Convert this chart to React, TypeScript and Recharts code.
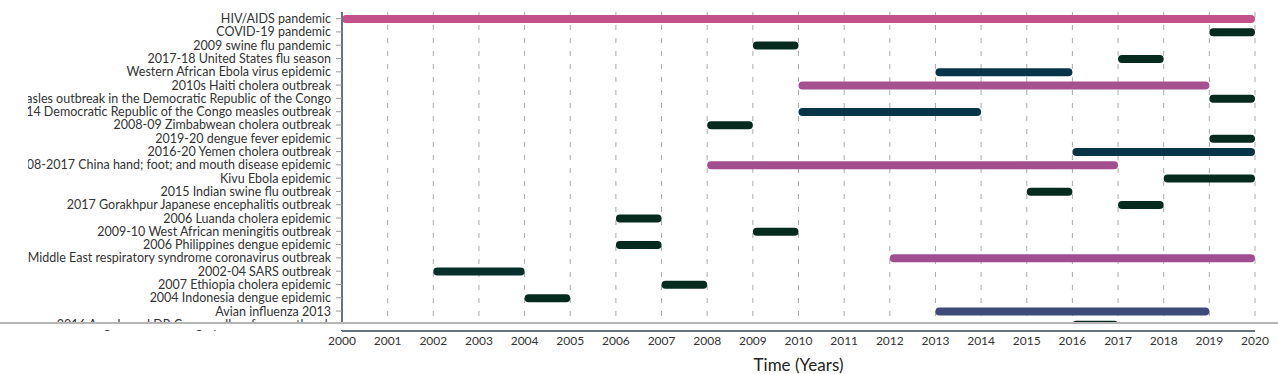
import { BarChart, Bar, XAxis, YAxis, CartesianGrid, Cell } from 'recharts';

// one row per outbreak, listed top to bottom
const outbreaks = [
  'HIV/AIDS pandemic',
  'COVID-19 pandemic',
  '2009 swine flu pandemic',
  '2017-18 United States flu season',
  'Western African Ebola virus epidemic',
  '2010s Haiti cholera outbreak',
  '2019 measles outbreak in the Democratic Republic of the Congo',
  '2011-2014 Democratic Republic of the Congo measles outbreak',
  '2008-09 Zimbabwean cholera outbreak',
  '2019-20 dengue fever epidemic',
  '2016-20 Yemen cholera outbreak',
  '2008-2017 China hand; foot; and mouth disease epidemic',
  'Kivu Ebola epidemic',
  '2015 Indian swine flu outbreak',
  '2017 Gorakhpur Japanese encephalitis outbreak',
  '2006 Luanda cholera epidemic',
  '2009-10 West African meningitis outbreak',
  '2006 Philippines dengue epidemic',
  'Middle East respiratory syndrome coronavirus outbreak',
  '2002-04 SARS outbreak',
  '2007 Ethiopia cholera epidemic',
  '2004 Indonesia dengue epidemic',
  'Avian influenza 2013',
  '2016 Angola and DR Congo yellow fever outbreak',
];

const startYears = [2000, 2019, 2009, 2017, 2013, 2010, 2019, 2010, 2008, 2019, 2016, 2008, 2018, 2015, 2017, 2006, 2009, 2006, 2012, 2002, 2007, 2004, 2013, 2016];
const endYears = [2020, 2020, 2010, 2018, 2016, 2019, 2020, 2014, 2009, 2020, 2020, 2017, 2020, 2016, 2018, 2007, 2010, 2007, 2020, 2004, 2008, 2005, 2019, 2017];

const barColors = [
  '#c4528a', '#052a1e', '#052a1e', '#052a1e', '#08344a', '#a5508f',
  '#052a1e', '#08344a', '#052a1e', '#052a1e', '#08344a', '#a24f90',
  '#052a1e', '#052a1e', '#052a1e', '#052a1e', '#052a1e', '#052a1e',
  '#a04e92', '#07302a', '#052a1e', '#052a1e', '#3d4a7a', '#052a1e',
];

const yearTicks = [2000, 2001, 2002, 2003, 2004, 2005, 2006, 2007, 2008, 2009, 2010, 2011, 2012, 2013, 2014, 2015, 2016, 2017, 2018, 2019, 2020];

const data = outbreaks.map((name, i) => ({ name, span: [startYears[i], endYears[i]] }));

const font = 'Lato, "Open Sans", sans-serif';

// plain <text> so long names don't get wrapped by recharts
const NameTick = ({ x, y, payload }: any) => (
  <text x={x} y={y} dy="0.36em" textAnchor="end" fontSize={12.5} fontFamily={font} fill="#333">
    {payload.value}
  </text>
);

export default function App() {
  return (
    <div style={{ position: 'fixed', left: 0, top: 0, width: 1278, height: 374, background: '#fff', overflow: 'hidden' }}>
      <div
        style={{
          position: 'absolute',
          left: 28,
          top: 0,
          width: 1250,
          height: 374,
          overflow: 'hidden',
          clipPath: 'inset(0)',
        }}
      >
        <BarChart
          width={1250}
          height={374}
          data={data}
          layout="vertical"
          margin={{ top: 12, right: 23, bottom: 0, left: 0 }}
        >
          <CartesianGrid horizontal={false} stroke="#aaa" strokeDasharray="5 8" />
          <XAxis
            type="number"
            domain={[2000, 2020]}
            ticks={yearTicks}
            allowDecimals={false}
            tickLine={false}
            tickSize={2}
            tickMargin={3}
            height={43}
            axisLine={{ stroke: '#66757b', strokeWidth: 2 }}
            tick={{ fontSize: 12, fontFamily: font, fill: '#333' }}
            label={{ value: 'Time (Years)', position: 'insideBottom', offset: 3, fontSize: 17, fontFamily: font, fill: '#222' }}
          />
          <YAxis
            type="category"
            dataKey="name"
            width={314}
            interval={0}
            tickSize={6}
            tickMargin={5}
            tickLine={{ stroke: '#999' }}
            axisLine={{ stroke: '#66757b', strokeWidth: 2 }}
            tick={<NameTick />}
          />
          <Bar dataKey="span" barSize={8} radius={4} isAnimationActive={false}>
            {data.map((d, i) => (
              <Cell key={d.name} fill={barColors[i]} />
            ))}
          </Bar>
        </BarChart>
      </div>
      {/* left edge mask: long names are cut where the chart area begins */}
      <div style={{ position: 'absolute', left: 0, top: 0, width: 28, height: 322, background: '#fff' }} />
      <div
        style={{
          position: 'absolute',
          left: 0,
          top: 322,
          width: 1278,
          height: 8,
          boxSizing: 'border-box',
          background: '#fff',
          borderTop: '2px solid #b5b5b5',
        }}
      />
    </div>
  );
}
